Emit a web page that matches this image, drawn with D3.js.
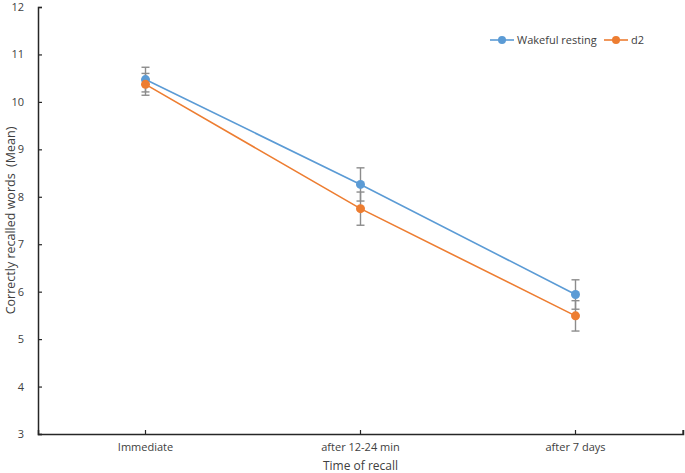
<!DOCTYPE html>
<html>
<head>
<meta charset="utf-8">
<script src="https://cdn.jsdelivr.net/npm/d3@7"></script>
<style>
  body { margin: 0; background: #fff; }
  text { font-family: "Open Sans", "Noto Sans", sans-serif; fill: #404040; }
</style>
</head>
<body>
<div id="chart"></div>
<script>
// Data
var categories = ["Immediate", "after 12-24 min", "after 7 days"];
var seriesNames = ["Wakeful resting", "d2"];
var wakefulMean = [10.47, 8.26, 5.94];
var wakefulErr = [0.26, 0.35, 0.31];
var d2Mean = [10.37, 7.75, 5.49];
var d2Err = [0.23, 0.35, 0.32];
var yTicks = [3, 4, 5, 6, 7, 8, 9, 10, 11, 12];

var colors = ["#5B9BD5", "#ED7D31"];

var width = 685, height = 473;
var margin = {top: 7, right: 2, bottom: 39, left: 38};

var svg = d3.select("#chart").append("svg")
    .attr("width", width)
    .attr("height", height);

var x = d3.scaleBand()
    .domain(categories)
    .range([margin.left, width - margin.right]);

var y = d3.scaleLinear()
    .domain([3, 12])
    .range([height - margin.bottom, margin.top]);

var series = [
    {name: seriesNames[0], mean: wakefulMean, err: wakefulErr, color: colors[0]},
    {name: seriesNames[1], mean: d2Mean, err: d2Err, color: colors[1]}
];

//Axes
var yAxis = svg.append("g")
    .attr("transform", "translate(" + margin.left + ",0)")
    .call(d3.axisLeft(y).tickValues(yTicks).tickSize(-4).tickPadding(14));

var xAxis = svg.append("g")
    .attr("transform", "translate(0," + (height - margin.bottom) + ")")
    .call(d3.axisBottom(x).tickSize(-4).tickPadding(9));

[xAxis, yAxis].forEach(function(a) {
    a.select(".domain").attr("stroke", "#262626").attr("stroke-width", 1.5);
    a.selectAll(".tick line").attr("stroke", "#262626").attr("stroke-width", 1.2);
    a.selectAll(".tick text")
        .style("font-size", "11px")
        .style("fill", "#404040")
        .style("font-family", "'Open Sans', 'Noto Sans', sans-serif");
});

//End tick on the right of x axis
svg.append("line")
    .attr("x1", width - margin.right).attr("x2", width - margin.right)
    .attr("y1", height - margin.bottom).attr("y2", height - margin.bottom - 4)
    .attr("stroke", "#262626").attr("stroke-width", 1.2);

//Axis titles
svg.append("text")
    .attr("x", x.range()[0] + (x.range()[1] - x.range()[0]) / 2)
    .attr("y", 470)
    .attr("text-anchor", "middle")
    .style("font-size", "12px")
    .text("Time of recall");

svg.append("text")
    .attr("transform", "translate(15," + (y(7.5)) + ") rotate(-90)")
    .attr("text-anchor", "middle")
    .style("font-size", "12.5px")
    .style("white-space", "pre")
    .text("Correctly recalled words  (Mean)");

var cx = function(i) { return x(categories[i]) + x.bandwidth() / 2; };

var line = d3.line()
    .x(function(d, i) { return cx(i); })
    .y(function(d) { return y(d); });

//Lines
series.forEach(function(s) {
    svg.append("path")
        .datum(s.mean)
        .attr("d", line)
        .attr("fill", "none")
        .attr("stroke", s.color)
        .attr("stroke-width", 1.6);
});

//Error bars
series.forEach(function(s) {
    var g = svg.append("g");
    s.mean.forEach(function(m, i) {
        var px = cx(i);
        g.append("line")
            .attr("x1", px).attr("x2", px)
            .attr("y1", y(m - s.err[i])).attr("y2", y(m + s.err[i]))
            .attr("stroke", "#8c8c8c").attr("stroke-width", 1.4);
        [m - s.err[i], m + s.err[i]].forEach(function(v) {
            g.append("line")
                .attr("x1", px - 4).attr("x2", px + 4)
                .attr("y1", y(v)).attr("y2", y(v))
                .attr("stroke", "#8c8c8c").attr("stroke-width", 1.4);
        });
    });
});

//Markers
series.forEach(function(s) {
    svg.selectAll(null)
        .data(s.mean)
        .enter()
        .append("circle")
        .attr("cx", function(d, i) { return cx(i); })
        .attr("cy", function(d) { return y(d); })
        .attr("r", 4.5)
        .attr("fill", s.color);
});

//Legend
var legendX = [490, 604];
var legend = svg.selectAll(".legend")
    .data(series)
    .enter()
    .append("g")
    .attr("class", "legend")
    .attr("transform", function(d, i) { return "translate(" + legendX[i] + ",40)"; });

legend.append("line")
    .attr("x1", 0).attr("x2", 24)
    .attr("stroke", function(d) { return d.color; })
    .attr("stroke-width", 1.6);

legend.append("circle")
    .attr("cx", 12)
    .attr("r", 4)
    .attr("fill", function(d) { return d.color; });

legend.append("text")
    .attr("x", 27)
    .attr("y", 4)
    .style("font-size", "11px")
    .text(function(d) { return d.name; });
</script>
</body>
</html>
